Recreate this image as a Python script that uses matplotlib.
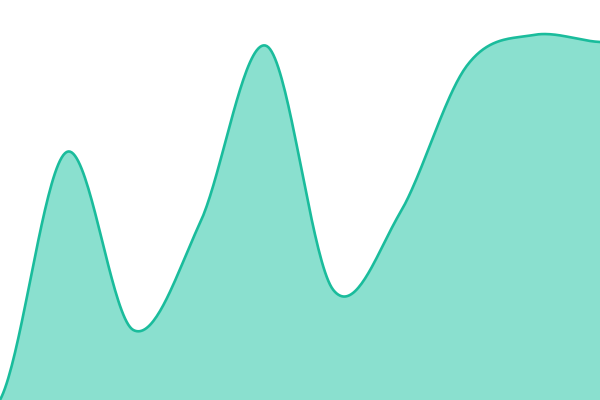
import numpy as np
import matplotlib
matplotlib.use("Agg")
import matplotlib.pyplot as plt

# points along the series (evenly spaced)
steps = [0, 1, 2, 3, 4, 5, 6, 7, 8, 9]
values = [0, 62, 17.5, 44.25, 88.5, 27.5, 46.75, 83.5, 91.25, 89.5]


def cardinal(x, y, n=40):
    # catmull-rom style smoothing, endpoints repeated
    x = np.asarray(x, float)
    y = np.asarray(y, float)
    yp = np.concatenate([[y[0]], y, [y[-1]]])
    m = (yp[2:] - yp[:-2]) / 2.0
    xs, ys = [], []
    for i in range(len(x) - 1):
        t = np.linspace(0, 1, n, endpoint=False)
        h00 = 2 * t**3 - 3 * t**2 + 1
        h10 = t**3 - 2 * t**2 + t
        h01 = -2 * t**3 + 3 * t**2
        h11 = t**3 - t**2
        xs.append(x[i] + t * (x[i + 1] - x[i]))
        ys.append(h00 * y[i] + h10 * m[i] + h01 * y[i + 1] + h11 * m[i + 1])
    xs.append([x[-1]])
    ys.append([y[-1]])
    return np.concatenate(xs), np.concatenate(ys)


sx, sy = cardinal(steps, values)

fig = plt.figure(figsize=(6, 4), dpi=100)
ax = fig.add_axes([0, 0, 1, 1])
ax.fill_between(sx, sy, 0, color="#8ae0cf", linewidth=0)
ax.plot(sx, sy, color="#1abc9c", linewidth=1.9, solid_capstyle="round")
ax.set_xlim(steps[0], steps[-1])
ax.set_ylim(0, 100)
ax.axis("off")

fig.savefig("out.png", dpi=100)
